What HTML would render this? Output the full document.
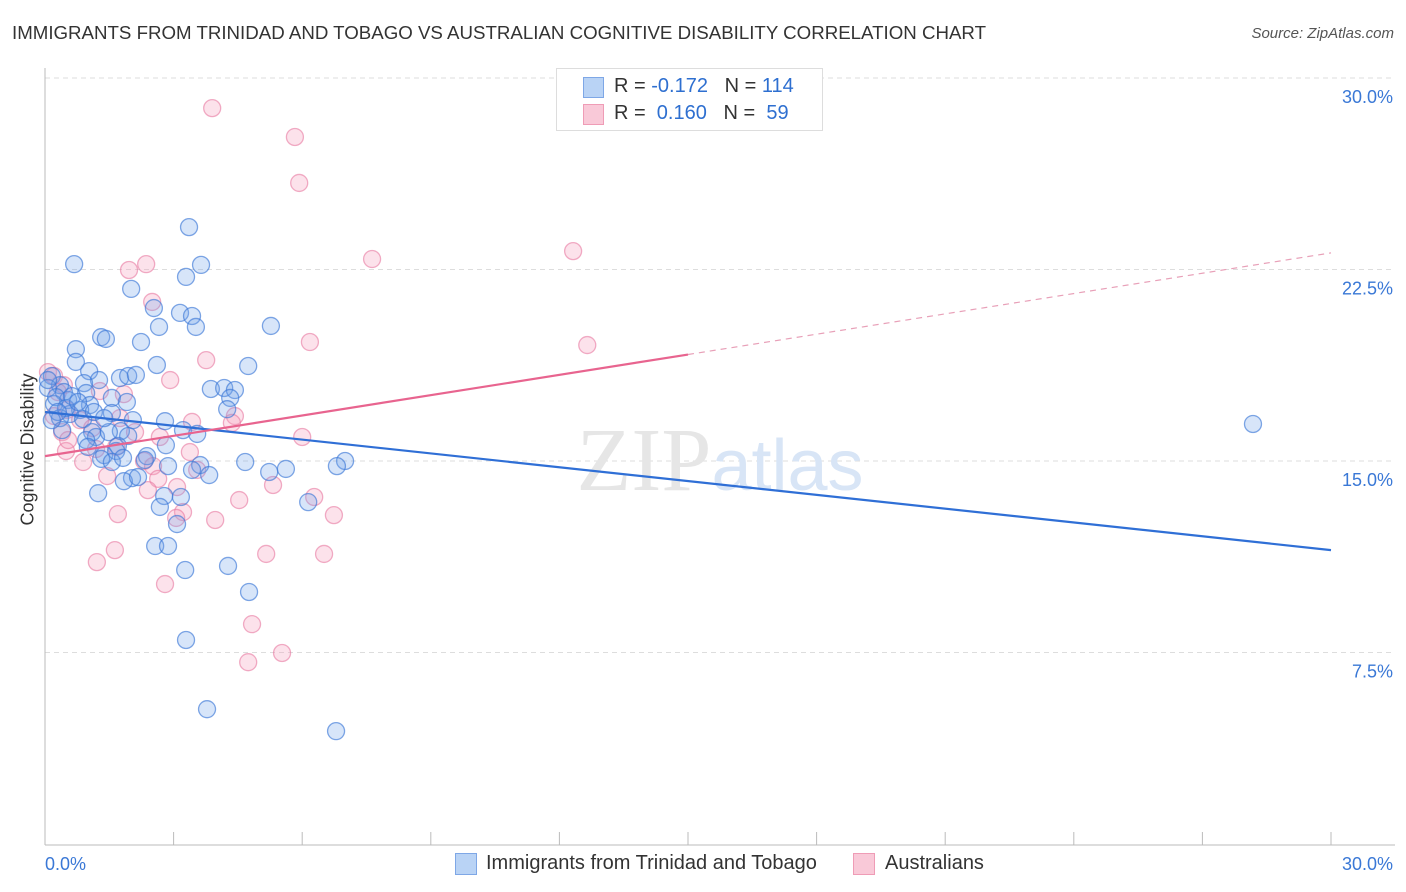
<!DOCTYPE html>
<html><head><meta charset="utf-8">
<style>
body{margin:0;background:#fff;font-family:"Liberation Sans",sans-serif;}
#wrap{position:relative;width:1406px;height:892px;overflow:hidden;}
.t{position:absolute;white-space:nowrap;}
</style></head>
<body><div id="wrap">
<div class="t" style="left:12px;top:22px;font-size:18.7px;color:#333;">IMMIGRANTS FROM TRINIDAD AND TOBAGO VS AUSTRALIAN COGNITIVE DISABILITY CORRELATION CHART</div>
<div class="t" style="right:12px;top:25px;font-size:15px;color:#555;font-style:italic;">Source: ZipAtlas.com</div>
<div class="t" style="left:-42px;top:445px;font-size:18px;color:#333;transform:rotate(-90deg);transform-origin:center;width:140px;text-align:center;">Cognitive Disability</div>
<svg id="plot" width="1406" height="892" style="position:absolute;left:0;top:0"></svg>
<div style="position:absolute;left:556px;top:68px;width:265px;height:61px;border:1px solid #ddd;background:#fff;font-size:20px;">
<div style="position:absolute;left:26px;top:8px;width:19px;height:19px;background:#b9d3f5;border:1px solid #7ea7e6;"></div>
<div class="t" style="left:57px;top:6px;color:#333;">R = <span style="color:#2e6fd0">-0.172</span>&nbsp;&nbsp;&nbsp;N = <span style="color:#2e6fd0">114</span></div>
<div style="position:absolute;left:26px;top:35px;width:19px;height:19px;background:#f9c9d8;border:1px solid #ef9cb6;"></div>
<div class="t" style="left:57px;top:33px;color:#333;">R = &nbsp;<span style="color:#2e6fd0">0.160</span>&nbsp;&nbsp;&nbsp;N = &nbsp;<span style="color:#2e6fd0">59</span></div>
</div>
<div>
<div style="position:absolute;left:455px;top:853px;width:20px;height:20px;background:#b9d3f5;border:1px solid #7ea7e6;"></div>
<div class="t" style="left:486px;top:852px;font-size:20px;color:#333;">Immigrants from Trinidad and Tobago</div>
<div style="position:absolute;left:853px;top:853px;width:20px;height:20px;background:#f9c9d8;border:1px solid #ef9cb6;"></div>
<div class="t" style="left:885px;top:852px;font-size:20px;color:#333;">Australians</div>
</div>
</div>
<script>
const yTicks=[30,22.5,15,7.5];
const yTickLabels=["30.0%","22.5%","15.0%","7.5%"];
const xTickLabels=["0.0%","30.0%"];
const blueX=[0.68,3.36,2.01,3.64,3.29,2.54,3.15,3.43,2.66,3.52,5.27,1.31,1.42,2.24,0.72,0.72,2.61,4.74,1.03,0.16,1.75,1.94,2.12,1.26,0.91,0.35,3.87,4.18,4.43,0.07,0.44,0.96,1.56,1.91,4.32,0.54,1.05,4.25,0.21,0.82,1.56,0.58,2.80,0.89,2.05,0.35,3.22,1.77,3.55,1.10,1.19,0.96,1.49,1.94,2.82,1.70,1.38,1.66,2.38,1.31,1.56,2.33,1.82,4.67,3.62,2.87,3.43,5.23,5.62,3.83,2.03,1.84,2.17,7.0,6.81,1.24,3.17,2.78,6.14,2.68,3.08,2.57,2.87,3.27,4.27,4.76,3.29,3.78,6.79,28.18,0.07,0.26,0.49,0.63,0.77,1.14,1.38,0.30,0.40,0.16,1.0];
const blueY=[22.71,24.16,21.74,22.68,22.21,20.99,20.8,20.68,20.25,20.25,20.29,19.85,19.78,19.66,19.38,18.88,18.76,18.72,18.52,18.33,18.25,18.33,18.37,18.17,18.05,17.97,17.82,17.86,17.78,17.86,17.70,17.66,17.47,17.31,17.47,17.39,17.19,17.03,17.23,17.0,16.88,16.84,16.56,16.64,16.60,16.68,16.21,16.17,16.06,16.13,15.94,15.82,16.13,15.98,15.62,15.59,15.23,15.39,15.19,15.08,14.96,15.04,15.12,14.96,14.84,14.80,14.65,14.57,14.69,14.45,14.33,14.21,14.37,15.0,14.8,13.74,13.59,13.63,13.39,13.20,12.53,11.67,11.67,10.73,10.89,9.87,7.99,5.28,4.42,16.45,18.17,17.5,17.07,17.54,17.31,16.92,16.68,16.92,16.21,16.6,15.55];
const pinkX=[3.90,5.83,5.93,12.32,7.63,2.36,1.96,2.50,6.18,12.65,3.76,0.07,0.21,2.92,0.44,0.30,1.84,1.28,0.51,0.21,1.75,3.43,4.43,4.36,0.82,0.40,1.10,2.10,2.68,6.0,0.49,1.19,1.66,3.38,2.31,0.89,2.52,3.55,1.45,2.64,5.32,3.08,4.53,6.28,2.40,3.22,1.70,6.74,3.97,3.06,5.16,6.51,1.63,1.21,2.80,4.83,5.53,4.74,0.54];
const pinkY=[28.82,27.69,25.89,23.22,22.91,22.71,22.48,21.23,19.66,19.54,18.95,18.48,18.33,18.17,17.97,17.70,17.62,17.74,17.0,16.76,16.68,16.53,16.76,16.49,16.6,16.13,16.29,16.13,15.94,15.94,15.39,15.47,15.55,15.35,15.0,14.96,14.80,14.65,14.41,14.30,14.06,13.98,13.47,13.59,13.86,13.0,12.92,12.88,12.69,12.77,11.36,11.36,11.51,11.04,10.18,8.61,7.48,7.12,15.82];
const blueTrend=[16.92,11.51];
const pinkTrend=[15.19,23.15];
const NS="http://www.w3.org/2000/svg";
const svg=document.getElementById('plot');
const X0=45,X1=1331,Y0=844,YTOP=78;
function sx(v){return X0+v/30*(X1-X0);}
function sy(v){return Y0-v/30*(Y0-YTOP);}
function mk(tag,attrs){const e=document.createElementNS(NS,tag);for(const k in attrs)e.setAttribute(k,attrs[k]);svg.appendChild(e);return e;}
yTicks.forEach((v,i)=>{
 const g=mk('line',{x1:X0,x2:1395,y1:sy(v),y2:sy(v),stroke:'#ddd','stroke-dasharray':'5,4','stroke-width':1});
 
 
 const t=mk('text',{x:1393,y:sy(v)+25,'text-anchor':'end','font-size':18,fill:'#3a78d6','font-family':'Liberation Sans, sans-serif'});
 t.textContent=yTickLabels[i];
 
 
});
const ax=mk('line',{x1:X0,x2:X0,y1:68,y2:845,stroke:'#bbb'});


const bx=mk('line',{x1:X0,x2:1395,y1:845,y2:845,stroke:'#bbb'});


for(let i=0;i<=10;i++){
 const tk=mk('line',{x1:sx(i*3),x2:sx(i*3),y1:832,y2:845,stroke:'#bbb'});
 
 
}
[[0,'start',45],[30,'end',1393]].forEach((d,i)=>{
 const t=mk('text',{x:d[2],y:870,'text-anchor':d[1],'font-size':18,fill:'#3a78d6','font-family':'Liberation Sans, sans-serif'});
 t.textContent=xTickLabels[i];
 
 
});
const wm=mk('text',{x:720,y:490,'text-anchor':'middle','font-size':90,'font-family':'Liberation Serif, serif',fill:'#e6e6e6'});
wm.innerHTML='ZIP<tspan font-family="Liberation Sans, sans-serif" font-size="72" fill="#d8e5f6">atlas</tspan>';


pinkX.forEach((v,i)=>{
 const c=mk('circle',{cx:sx(v),cy:sy(pinkY[i]),r:8.5,fill:'rgba(244,160,190,0.3)',stroke:'rgba(232,120,160,0.6)','stroke-width':1.3});
 
 
});
blueX.forEach((v,i)=>{
 const c=mk('circle',{cx:sx(v),cy:sy(blueY[i]),r:8.5,fill:'rgba(110,160,235,0.28)',stroke:'rgba(60,120,215,0.65)','stroke-width':1.3});
 
 
});
const bl=mk('line',{x1:sx(0),y1:sy(blueTrend[0]),x2:sx(30),y2:sy(blueTrend[1]),stroke:'#2f6fd6','stroke-width':2.2});


const pm=pinkTrend[0]+(pinkTrend[1]-pinkTrend[0])*0.5;
const pl=mk('line',{x1:sx(0),y1:sy(pinkTrend[0]),x2:sx(15),y2:sy(pm),stroke:'#e8648f','stroke-width':2.2});


const pd=mk('line',{x1:sx(15),y1:sy(pm),x2:sx(30),y2:sy(pinkTrend[1]),stroke:'#e8a0b8','stroke-width':1.2,'stroke-dasharray':'6,5'});


</script>
</body></html>
